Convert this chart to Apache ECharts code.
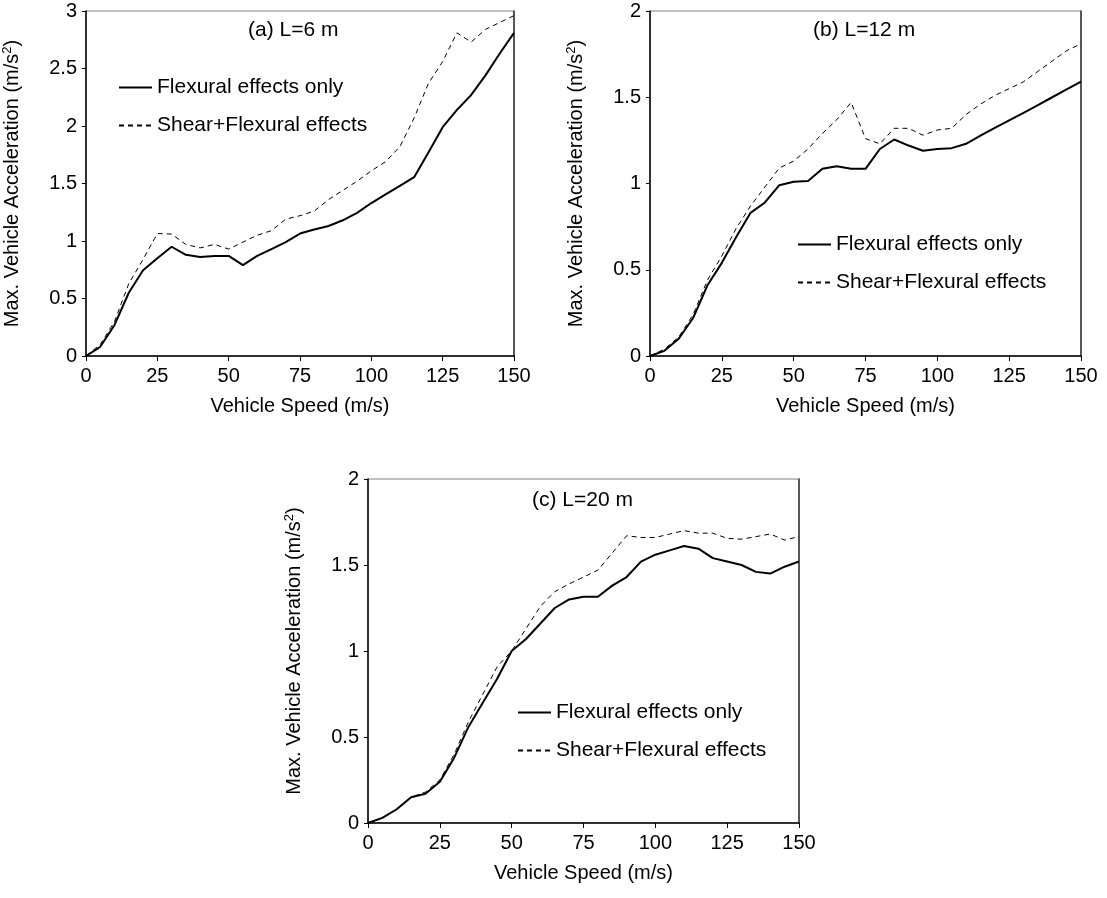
<!DOCTYPE html>
<html>
<head>
<meta charset="utf-8">
<script src="https://cdn.jsdelivr.net/npm/echarts@6/dist/echarts.min.js"></script>
<style>html,body{margin:0;padding:0;background:#fff}#c{width:1107px;height:898px}</style>
</head>
<body>
<div id="c"></div>
<script>
const speeds = [0,5,10,15,20,25,30,35,40,45,50,55,60,65,70,75,80,85,90,95,100,105,110,115,120,125,130,135,140,145,150];
const xTicks = [0,25,50,75,100,125,150];
const seriesNames = ['Flexural effects only','Shear+Flexural effects'];
const panelTitles = ['(a) L=6 m','(b) L=12 m','(c) L=20 m'];

const flexA  = [0,0.08,0.27,0.55,0.745,0.85,0.95,0.88,0.86,0.87,0.87,0.79,0.87,0.93,0.99,1.065,1.10,1.13,1.18,1.245,1.33,1.405,1.48,1.555,1.77,1.99,2.14,2.27,2.44,2.63,2.81];
const shearA = [0,0.10,0.30,0.63,0.84,1.065,1.06,0.97,0.94,0.97,0.93,0.99,1.05,1.09,1.19,1.22,1.26,1.36,1.44,1.52,1.61,1.69,1.82,2.07,2.37,2.56,2.81,2.73,2.84,2.90,2.96];
const flexB  = [0,0.03,0.10,0.22,0.41,0.54,0.69,0.83,0.89,0.99,1.01,1.015,1.085,1.10,1.085,1.085,1.20,1.255,1.22,1.19,1.20,1.205,1.23,1.277,1.322,1.366,1.41,1.455,1.50,1.545,1.59];
const shearB = [0,0.04,0.11,0.24,0.44,0.58,0.74,0.87,0.98,1.09,1.13,1.20,1.29,1.37,1.47,1.26,1.23,1.32,1.32,1.28,1.31,1.32,1.40,1.46,1.51,1.55,1.59,1.65,1.71,1.77,1.81];
const flexC  = [0,0.03,0.08,0.15,0.17,0.24,0.38,0.56,0.70,0.84,1.0,1.07,1.16,1.25,1.30,1.315,1.315,1.38,1.43,1.52,1.56,1.585,1.61,1.595,1.54,1.52,1.50,1.46,1.45,1.49,1.52];
const shearC = [0,0.03,0.08,0.15,0.18,0.25,0.40,0.59,0.75,0.91,1.0,1.13,1.26,1.345,1.39,1.43,1.47,1.57,1.67,1.66,1.66,1.68,1.70,1.685,1.685,1.655,1.65,1.665,1.68,1.645,1.665];
const yMax = [3,2,2];

const FONT = 'Liberation Sans, Arial, sans-serif';
const grids = [
  {left:85, top:11, width:429, height:345},
  {left:650, top:11, width:431, height:345},
  {left:368, top:479, width:431, height:344}
];
const legendPos = [{left:118, top:77}, {left:797, top:234}, {left:517, top:702}];
const titlePos = [{left:248, top:20}, {left:813, top:20}, {left:532, top:490}];
const data = [[flexA, shearA],[flexB, shearB],[flexC, shearC]];

const pair = (ys) => speeds.map((s,i) => [s, ys[i]]);

const option = {
  animation:false,
  backgroundColor:'#fff',
  textStyle:{fontFamily:FONT},
  title: panelTitles.map((t,i)=>({text:t, left:titlePos[i].left, top:titlePos[i].top, padding:0,
    textStyle:{fontSize:21, fontWeight:'normal', color:'#000', fontFamily:FONT}})),
  legend: legendPos.map(p=>({data:seriesNames, orient:'vertical', left:p.left, top:p.top, padding:0,
    itemWidth:33, itemHeight:14, itemGap:17, selectedMode:false,
    itemStyle:{opacity:0},
    textStyle:{fontSize:21, color:'#000', fontFamily:FONT, lineHeight:21}})),
  grid: grids.map(g=>Object.assign({show:true, borderColor:'#808080', borderWidth:1}, g)),
  xAxis: grids.map((g,i)=>({
    type:'value', gridIndex:i, min:0, max:150, interval:25,
    name:'Vehicle Speed (m/s)', nameLocation:'middle', nameGap:40,
    nameTextStyle:{fontSize:20, color:'#000', fontFamily:FONT},
    axisLine:{show:true, onZero:false, lineStyle:{color:'#000', width:1.5}},
    axisTick:{show:true, inside:false, length:5, lineStyle:{color:'#000'}},
    axisLabel:{fontSize:20, color:'#000', margin:10, fontFamily:FONT},
    splitLine:{show:false}
  })),
  yAxis: grids.map((g,i)=>({
    type:'value', gridIndex:i, min:0, max:yMax[i], interval:0.5,
    name:'{n|Max. Vehicle Acceleration (m/s}{s|2}{n|)}', nameLocation:'middle', nameGap:62, nameRotate:90,
    nameTextStyle:{fontSize:20, color:'#000', fontFamily:FONT,
      rich:{n:{fontSize:20, color:'#000', fontFamily:FONT}, s:{fontSize:13, color:'#000', fontFamily:FONT, verticalAlign:'top', padding:[0,0,10,0]}}},
    axisLine:{show:true, onZero:false, lineStyle:{color:'#000', width:1.5}},
    axisTick:{show:true, inside:false, length:4, lineStyle:{color:'#000'}},
    axisLabel:{fontSize:20, color:'#000', margin:9, fontFamily:FONT},
    splitLine:{show:false}
  })).concat(grids.map((g,i)=>({
    type:'value', gridIndex:i, min:0, max:yMax[i], position:'right',
    axisLine:{show:true, onZero:false, lineStyle:{color:'#333', width:1.5}},
    axisTick:{show:false}, axisLabel:{show:false}, splitLine:{show:false}
  }))),
  series: []
};
data.forEach((pairData,i)=>{
  option.series.push({name:seriesNames[0], type:'line', xAxisIndex:i, yAxisIndex:i, data:pair(pairData[0]),
    symbol:'none', lineStyle:{color:'#000', width:2}, itemStyle:{color:'#000'}});
  option.series.push({name:seriesNames[1], type:'line', xAxisIndex:i, yAxisIndex:i, data:pair(pairData[1]),
    symbol:'none', lineStyle:{color:'#000', width:1, type:[5,4]}, itemStyle:{color:'#000'}});
});
const chart = echarts.init(document.getElementById('c'), null, {renderer:'canvas'});
chart.setOption(option);
</script>
</body>
</html>
